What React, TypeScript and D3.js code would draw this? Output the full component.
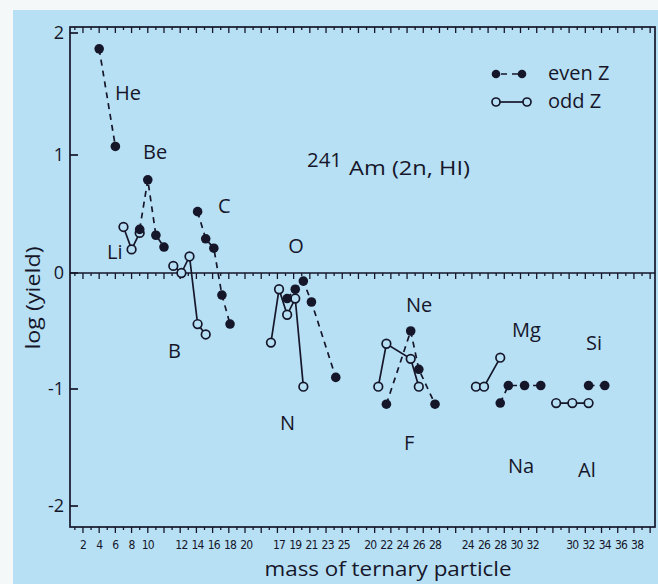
import React from "react";
import * as d3 from "d3";

// ---------- data ----------
// x axis is made of six mass groups laid side by side; each group has its own offset
const groupOffsets = [-2, 0.15, 7.2, 15.45, 23.5, 30.4];
const groupTickLabels = [
  [2, 4, 6, 8, 10],
  [12, 14, 16, 18, 20],
  [17, 19, 21, 23, 25],
  [20, 22, 24, 26, 28],
  [24, 26, 28, 30, 32],
  [30, 32, 34, 36, 38],
];
const yTickValues = [2, 1, 0, -1, -2];

const elementNames = ["He", "Li", "Be", "B", "C", "N", "O", "F", "Ne", "Na", "Mg", "Al", "Si"];
const elementGroup = [0, 0, 0, 1, 1, 2, 2, 3, 3, 4, 4, 5, 5];
const elementEvenZ = [true, false, true, false, true, false, true, false, true, false, true, false, true];

const heMass = [4, 6];
const heYield = [1.87, 1.07];
const liMass = [7, 8, 9];
const liYield = [0.39, 0.2, 0.34];
const beMass = [9, 10, 11, 12];
const beYield = [0.37, 0.79, 0.32, 0.22];
const bMass = [11, 12, 13, 14, 15];
const bYield = [0.06, 0.0, 0.14, -0.44, -0.53];
const cMass = [14, 15, 16, 17, 18];
const cYield = [0.52, 0.29, 0.21, -0.19, -0.44];
const nMass = [16, 17, 18, 19, 20];
const nYield = [-0.6, -0.14, -0.36, -0.22, -0.98];
const oMass = [18, 19, 20, 21, 24];
const oYield = [-0.22, -0.14, -0.07, -0.25, -0.9];
const fMass = [21, 22, 25, 26];
const fYield = [-0.98, -0.61, -0.74, -0.98];
const neMass = [22, 25, 26, 28];
const neYield = [-1.13, -0.5, -0.83, -1.13];
const naMass = [25, 26, 28];
const naYield = [-0.98, -0.98, -0.73];
const mgMass = [28, 29, 31, 33];
const mgYield = [-1.12, -0.97, -0.97, -0.97];
const alMass = [28, 30, 32];
const alYield = [-1.12, -1.12, -1.12];
const siMass = [32, 34];
const siYield = [-0.97, -0.97];

const massLists = [heMass, liMass, beMass, bMass, cMass, nMass, oMass, fMass, neMass, naMass, mgMass, alMass, siMass];
const yieldLists = [heYield, liYield, beYield, bYield, cYield, nYield, oYield, fYield, neYield, naYield, mgYield, alYield, siYield];

// ---------- layout / style ----------
const W = 658;
const H = 584;
const BG = "#b7e0f4";
const INK = "#16162a";
const FONT = "'Open Sans', 'Noto Sans', sans-serif";

const labelPos: Record<string, [number, number, string]> = {
  He: [115, 100, "start"],
  Be: [143, 159, "start"],
  Li: [107, 259, "start"],
  C: [218, 213, "start"],
  O: [296, 253, "middle"],
  B: [168, 358, "start"],
  N: [280, 430, "start"],
  Ne: [406, 312, "start"],
  F: [404, 450, "start"],
  Mg: [512, 337, "start"],
  Na: [508, 473, "start"],
  Si: [586, 350, "start"],
  Al: [578, 477, "start"],
};

export default function App() {
  const x = d3.scaleLinear().domain([-1.6, 70.6]).range([70, 655]);
  // scanned figure: calibrated against the printed y ticks
  const y = d3
    .scaleLinear()
    .domain([-2.18, -2, -1, 0, 1, 2, 2.05])
    .range([527, 506, 389, 273, 155, 33, 27]);

  const left = 70, right = 655, top = 27, bottom = 527;
  const y0 = y(0);

  const pos = (g: number, m: number) => x(m + groupOffsets[g]);

  const series = elementNames.map((name, i) => ({
    name,
    even: elementEvenZ[i],
    pts: massLists[i].map((m, k) => [pos(elementGroup[i], m), y(yieldLists[i][k])] as [number, number]),
  }));

  const line = d3.line<[number, number]>();
  const tickPs = d3.range(-1, 71);

  const hTicks = (yy: number, key: string) =>
    tickPs.map((p) => (
      <line
        key={key + p}
        x1={x(p)}
        x2={x(p)}
        y1={yy}
        y2={yy + (p % 2 === 0 ? 6 : 3)}
        stroke={INK}
        strokeWidth={1.3}
      />
    ));

  return (
    <svg
      width={W}
      height={H}
      style={{ position: "absolute", left: 0, top: 0, display: "block" }}
      fontFamily={FONT}
      fontWeight={500}
    >
      <rect x={0} y={0} width={W} height={H} fill="#f4f8f9" />
      <rect x={13} y={10} width={W - 13} height={H - 10} fill={BG} />

      {/* frame */}
      <rect x={left} y={top} width={right - left} height={bottom - top} fill="none" stroke={INK} strokeWidth={1.7} />
      <line x1={left} x2={right} y1={y0} y2={y0} stroke={INK} strokeWidth={1.7} />
      {hTicks(top, "t")}
      {hTicks(y0, "z")}
      {hTicks(bottom, "b")}

      {/* y ticks */}
      {yTickValues.map((v) => (
        <g key={"y" + v}>
          <line x1={left} x2={left + 8} y1={y(v)} y2={y(v)} stroke={INK} strokeWidth={1.7} />
          <text x={64} y={y(v)} dy="0.36em" textAnchor="end" fontSize={18} fill={INK}>
            {v}
          </text>
        </g>
      ))}

      {/* x tick labels */}
      {groupTickLabels.map((labels, g) =>
        labels.map((m) => (
          <text
            key={"xl" + g + "-" + m}
            x={pos(g, m)}
            y={549}
            textAnchor="middle"
            fontSize={12}
            letterSpacing={-0.8}
            fill={INK}
            fontFamily="'Liberation Sans Narrow', 'DejaVu Sans Condensed', 'Liberation Sans', sans-serif"
          >
            {m}
          </text>
        ))
      )}

      {/* axis titles */}
      <text x={388} y={576} textAnchor="middle" fontSize={20} fill={INK} textLength={247} lengthAdjust="spacingAndGlyphs">
        mass of ternary particle
      </text>
      <text
        transform={`translate(40, 298) rotate(-90)`}
        textAnchor="middle"
        fontSize={20}
        fill={INK}
        textLength={103}
        lengthAdjust="spacingAndGlyphs"
      >
        log (yield)
      </text>

      {/* connecting lines */}
      {series.map((s) => (
        <path
          key={"l" + s.name}
          d={line(s.pts) || ""}
          fill="none"
          stroke={INK}
          strokeWidth={1.7}
          strokeDasharray={s.even ? "6,5" : undefined}
        />
      ))}

      {/* markers */}
      {series.map((s) =>
        s.pts.map((p, k) =>
          s.even ? (
            <circle key={s.name + k} cx={p[0]} cy={p[1]} r={4.8} fill={INK} />
          ) : (
            <circle key={s.name + k} cx={p[0]} cy={p[1]} r={4.3} fill={BG} stroke={INK} strokeWidth={1.7} />
          )
        )
      )}

      {/* element labels */}
      {elementNames.map((n) => {
        const [lx, ly, anchor] = labelPos[n];
        return (
          <text key={"lab" + n} x={lx} y={ly} fontSize={20} fill={INK} textAnchor={anchor as any}>
            {n}
          </text>
        );
      })}

      {/* reaction annotation */}
      <text x={307} y={167} fontSize={20} fill={INK} textLength={35} lengthAdjust="spacingAndGlyphs">
        241
      </text>
      <text x={349} y={175} fontSize={20} fill={INK} textLength={121} lengthAdjust="spacingAndGlyphs">
        Am (2n, HI)
      </text>

      {/* legend */}
      <line x1={496} x2={522} y1={74} y2={74} stroke={INK} strokeWidth={1.7} strokeDasharray="6,5" strokeDashoffset={-5} />
      <circle cx={496} cy={74} r={4.3} fill={INK} />
      <circle cx={522} cy={74} r={4.3} fill={INK} />
      <text x={548} y={80} fontSize={20} fill={INK}>
        even Z
      </text>
      <line x1={496} x2={527} y1={102} y2={102} stroke={INK} strokeWidth={1.7} />
      <circle cx={496} cy={102} r={4} fill={BG} stroke={INK} strokeWidth={1.7} />
      <circle cx={527} cy={102} r={4} fill={BG} stroke={INK} strokeWidth={1.7} />
      <text x={548} y={108} fontSize={20} fill={INK}>
        odd Z
      </text>
    </svg>
  );
}
